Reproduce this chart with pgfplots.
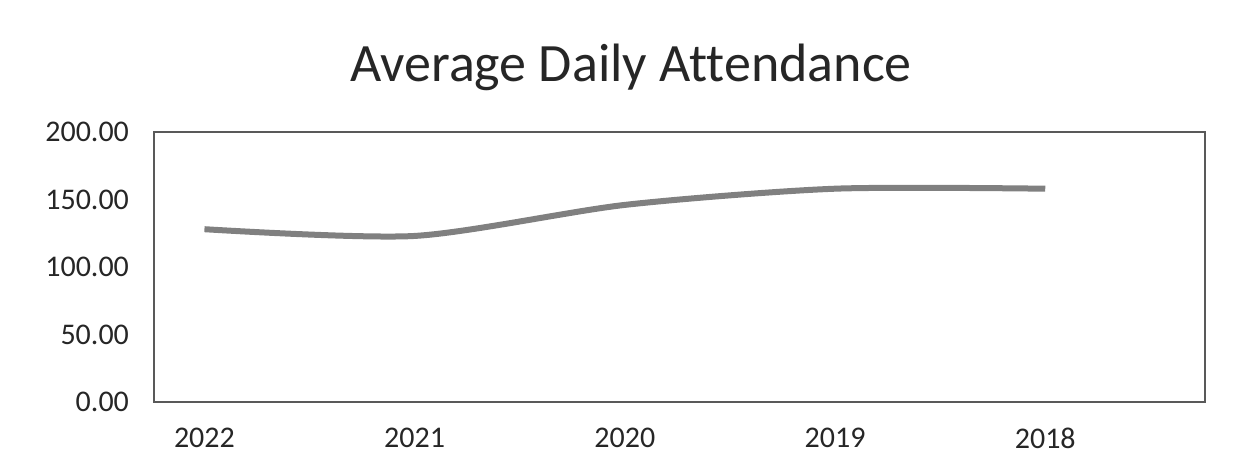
\documentclass[border=0pt]{standalone}
\usepackage{fontspec}
\setmainfont[Ligatures=NoCommon]{Carlito}
\usepackage{pgfplots}
\pgfplotsset{compat=1.18}
\begin{document}
\begin{tikzpicture}[x=1pt,y=1pt]
\path[use as bounding box] (0,0) rectangle (619.5,235.5);
\node[anchor=base, font=\fontsize{27}{31}\selectfont, text=black!85] at (315.5,194.5) {Average Daily Attendance};
\begin{axis}[
  at={(77pt,34.5pt)}, anchor=south west,
  scale only axis, width=525.5pt, height=135pt,
  xmin=-0.24, xmax=4.76, ymin=0, ymax=200,
  xtick={0,1,2,3,4}, xticklabels={2022,2021,2020,2019,2018},
  ytick={0,50,100,150,200},
  major tick length=0pt,
  /pgf/number format/assume math mode=true,
  yticklabel={\pgfmathprintnumber[fixed,fixed zerofill,precision=2]{\tick}},
  ticklabel style={font=\fontsize{15}{18}\selectfont, text=black!85},
  xticklabel style={yshift=-9.5pt},
  yticklabel style={xshift=-9pt},
  axis line style={draw=black!65, line width=1pt},
  clip=false,
]
\addplot[smooth, tension=0.45, draw=black!50, line width=3pt] coordinates {
  (0,128) (1,123) (2,146) (3,158) (4,158)
};
\end{axis}
\end{tikzpicture}
\end{document}
